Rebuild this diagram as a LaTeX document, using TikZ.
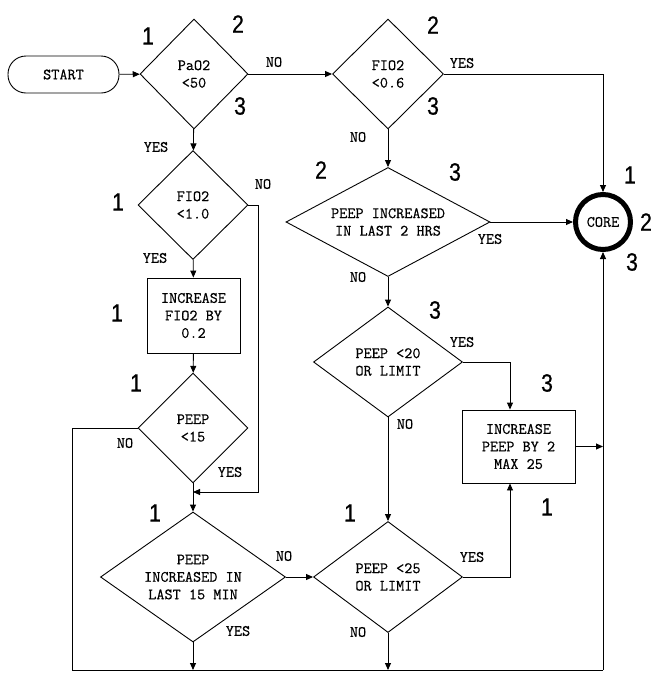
\documentclass[tikz,border=0pt]{standalone}
\usepackage{fontspec}
\setmonofont[FakeBold=0.5]{Latin Modern Mono}
\newfontfamily\numfont[FakeStretch=0.85,FakeBold=0.6]{Liberation Sans}
\usetikzlibrary{shapes.geometric,arrows.meta}
\begin{document}
\begin{tikzpicture}[x=1pt,y=-1pt,
  every node/.style={font=\ttfamily\fontsize{15.8}{17.5}\selectfont, align=center},
  dia/.style n args={3}{diamond, draw, line width=0.9pt, inner sep=0pt, minimum width=#1, minimum height=#2, shape aspect=#3},
  boxx/.style 2 args={rectangle, draw, line width=0.9pt, inner sep=0pt, minimum width=#1, minimum height=#2},
  lab/.style={inner sep=0pt},
  num/.style={inner sep=0pt, font=\numfont\fontsize{25}{25}\selectfont},
  conn/.style={line width=0.9pt},
  arr/.style={line width=0.9pt, -{Triangle[length=7pt,width=6pt]}}]
\useasboundingbox (0,0) rectangle (654,673);
% nodes
\node[draw, line width=0.9pt, rounded corners=18pt, minimum width=111, minimum height=37, inner sep=0pt] (start) at (63.5,74.5) {START};
\node[dia={108}{110}{1}] (pao2) at (194,74) {PaO2\\<50};
\node[dia={111}{110}{1}] (fio06) at (388,74) {FIO2\\<0.6};
\node[dia={110}{109}{1}] (fio10) at (193,205) {FIO2\\<1.0};
\node[boxx={93}{75}] (incf) at (193.5,315.5) {INCREASE\\FIO2 BY\\0.2};
\node[dia={110}{110}{1}] (peep15) at (193,428) {PEEP\\<15};
\node[dia={185}{130}{1.42}] (peep15m) at (193,577) {PEEP\\INCREASED IN\\LAST 15 MIN};
\node[dia={204}{109}{1.87}] (peep2h) at (388,222) {PEEP INCREASED\\IN LAST 2 HRS};
\node[dia={149}{110}{1.35}] (peep20) at (388,362) {PEEP <20\\OR LIMIT};
\node[dia={149}{111}{1.34}] (peep25) at (388,577) {PEEP <25\\OR LIMIT};
\node[boxx={113}{73}] (incp) at (518.5,446.5) {INCREASE\\PEEP BY 2\\MAX 25};
\node[circle, draw, line width=5pt, minimum size=55, inner sep=0pt] (core) at (603,222) {CORE};
% junction coordinates
\coordinate (j1) at (193,492);
\coordinate (bl) at (72,670);
\coordinate (br) at (603,670);
\coordinate (b15) at (193,670);
\coordinate (b25) at (388,670);
\coordinate (jr) at (603,446.5);
% connectors
\draw[arr] (start) -- (pao2);
\draw[arr] (pao2) -- (fio06);
\draw[arr] (fio06.east) -| (core.north);
\draw[arr] (pao2) -- (fio10);
\draw[arr] (fio10) -- (incf);
\draw[arr] (incf) -- (peep15);
\draw[arr] (peep15) -- (peep15m);
\draw[arr] (fio10.east) -- ++(10,0) |- (j1);
\draw[conn] (peep15.west) -| (bl) -- (br);
\draw[arr] (br) -- (core.south);
\draw[arr] (peep15m) -- (b15);
\draw[arr] (peep15m) -- (peep25);
\draw[arr] (peep25) -- (b25);
\draw[arr] (peep25.east) -| (incp.south -| 510,0);
\draw[arr] (peep20.east) -| (incp.north -| 510,0);
\draw[arr] (incp.east) -- (jr);
\draw[arr] (fio06) -- (peep2h);
\draw[arr] (peep2h.east) -- (core.west);
\draw[arr] (peep2h) -- (peep20);
\draw[arr] (peep20) -- (peep25);
% YES / NO labels
\node[lab] (t1) at (274,62) {NO};
\node[lab] (t2) at (462,63) {YES};
\node[lab] (t3) at (156,147) {YES};
\node[lab] (t4) at (263,184) {NO};
\node[lab] (t5) at (155,258) {YES};
\node[lab] (t6) at (125,443) {NO};
\node[lab] (t7) at (230,472) {YES};
\node[lab] (t8) at (284,556) {NO};
\node[lab] (t9) at (238,631) {YES};
\node[lab] (t10) at (472,557) {YES};
\node[lab] (t11) at (358,632) {NO};
\node[lab] (t12) at (358,137) {NO};
\node[lab] (t13) at (490,239) {YES};
\node[lab] (t14) at (358,277) {NO};
\node[lab] (t15) at (462,342) {YES};
\node[lab] (t16) at (405,424) {NO};
% big numbers
\node[num] (n1) at (148,36) {1};
\node[num] (n2) at (238,24) {2};
\node[num] (n3) at (240,106) {3};
\node[num] (n4) at (433,25) {2};
\node[num] (n5) at (433,106) {3};
\node[num] (n6) at (118,202) {1};
\node[num] (n7) at (117,313) {1};
\node[num] (n8) at (136,383) {1};
\node[num] (n9) at (155,513) {1};
\node[num] (n10) at (321,170) {2};
\node[num] (n11) at (455,172) {3};
\node[num] (n12) at (435,310) {3};
\node[num] (n13) at (547,383) {3};
\node[num] (n14) at (547,507) {1};
\node[num] (n15) at (350,513) {1};
\node[num] (n16) at (630,175) {1};
\node[num] (n17) at (646,222) {2};
\node[num] (n18) at (632,262) {3};
\end{tikzpicture}
\end{document}
